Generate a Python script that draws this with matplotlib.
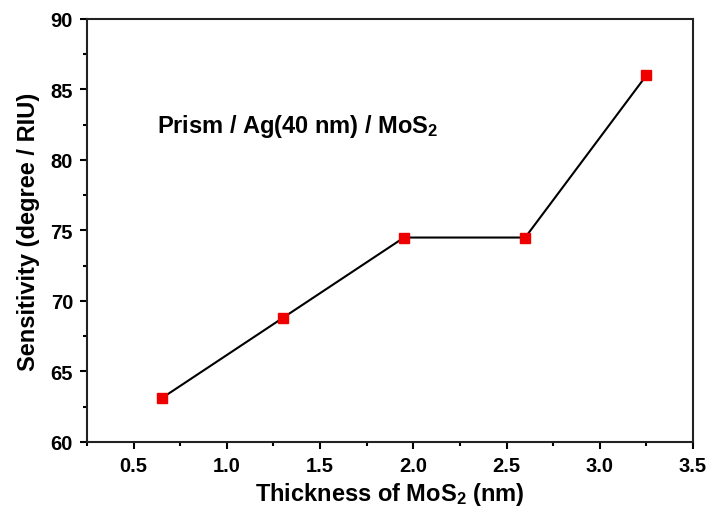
from matplotlib import pyplot as plt
from matplotlib.ticker import MultipleLocator

plt.rcParams['font.family'] = ['Liberation Sans', 'DejaVu Sans']
plt.rcParams['font.weight'] = 'bold'
plt.rcParams['mathtext.fontset'] = 'custom'
plt.rcParams['mathtext.rm'] = 'Liberation Sans:bold'
plt.rcParams['mathtext.bf'] = 'Liberation Sans:bold'
plt.rcParams['mathtext.it'] = 'Liberation Sans:bold'

thickness = [0.65, 1.3, 1.95, 2.6, 3.25]
sensitivity = [63.1, 68.8, 74.5, 74.5, 86.0]

fig = plt.figure(figsize=(7.08, 5.10), dpi=100)
ax = fig.add_axes([0.1229, 0.1314, 0.8559, 0.8294])

ax.plot(thickness, sensitivity, color='black', lw=1.5, zorder=2)
ax.plot(thickness, sensitivity, 's', color='#ee0000', ms=7, zorder=3, lw=0)

ax.set_xlim(0.25, 3.5)
ax.set_ylim(60, 90)
ax.xaxis.set_major_locator(MultipleLocator(0.5))
ax.xaxis.set_minor_locator(MultipleLocator(0.25))
ax.yaxis.set_major_locator(MultipleLocator(5))
ax.yaxis.set_minor_locator(MultipleLocator(2.5))
ax.tick_params(which='both', direction='out', width=1.5, top=False, right=False)
ax.tick_params(which='major', length=5, labelsize=14.5, pad=5)
ax.tick_params(which='minor', length=3)
for s in ax.spines.values():
    s.set_linewidth(1.5)
    s.set_color('#222222')
ax.xaxis.set_major_formatter(plt.FuncFormatter(lambda v, p: f'{v:.1f}'))

ax.set_xlabel('Thickness of MoS$_\\mathrm{2}$ (nm)', fontsize=17, fontweight='bold', labelpad=4)
ax.set_ylabel('Sensitivity (degree / RIU)', fontsize=17, fontweight='bold', labelpad=8)
ax.text(0.626, 82.0, 'Prism / Ag(40 nm) / MoS$_\\mathrm{2}$', ha='left', va='baseline',
        fontsize=17, fontweight='bold')

fig.savefig('out.png', dpi=100)
